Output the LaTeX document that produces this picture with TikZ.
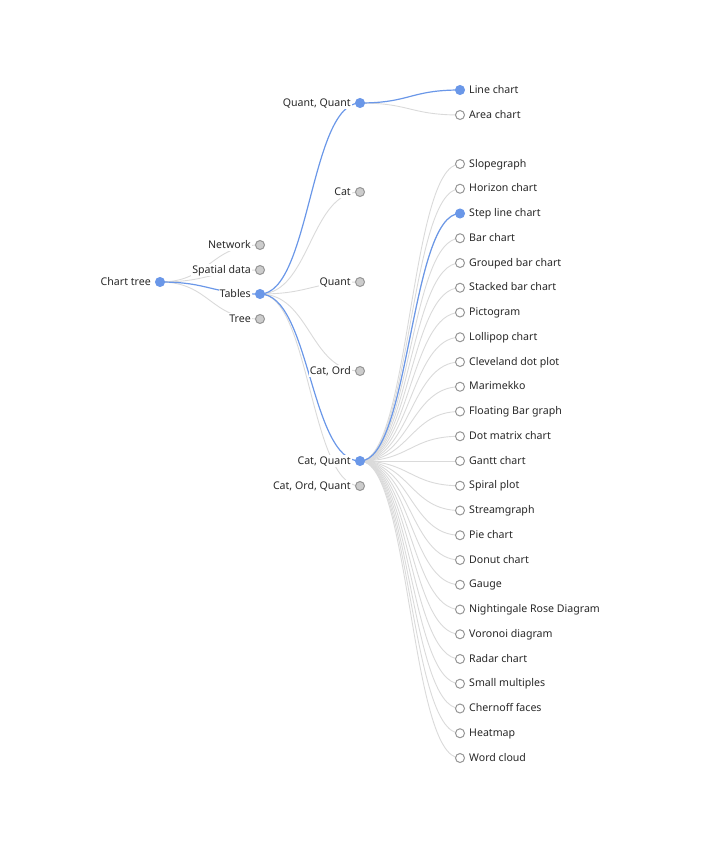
\documentclass[tikz,border=0pt]{standalone}
\usepackage{fontspec}
\setmainfont{Noto Sans}
\usepackage{xcolor}
\usetikzlibrary{backgrounds}
\definecolor{PathBlue}{RGB}{106,151,232}
\definecolor{LinkGrey}{RGB}{218,218,218}
\definecolor{KnotGrey}{RGB}{204,204,204}
\definecolor{RimGrey}{RGB}{150,150,150}
\definecolor{InkGrey}{RGB}{40,40,40}
% horizontal tree link between two named nodes
\newcommand\lk[3][link]{\draw[#1] (#2.center) .. controls +(50,0) and +(-50,0) .. (#3.center);}

\begin{document}
\begin{tikzpicture}[x=1pt,y=-1pt,every node/.style={font=\fontsize{10.6}{12}\selectfont,text=InkGrey}]
\tikzset{knot/.style={circle,inner sep=0pt,minimum size=9pt,line width=1pt},
  sel/.style={knot,fill=PathBlue,draw=PathBlue},
  shut/.style={knot,fill=KnotGrey,draw=RimGrey},
  leaf/.style={knot,fill=white,draw=RimGrey},
  link/.style={draw=LinkGrey,line width=0.9pt},
  hot/.style={draw=PathBlue,line width=1.2pt},
  txt/.style={fill=white,inner sep=1pt,text height=1.5ex,text depth=.3ex},
  tl/.style={label={[txt,label distance=3pt]left:#1}},
  tr/.style={label={[txt,label distance=3pt]right:#1}}}
\useasboundingbox (0,0) rectangle (710,853);
\node[sel,tl=Chart tree] (root) at (160,282) {};
\node[shut,tl=Network] (net) at (260,245) {};
\node[shut,tl=Spatial data] (geo) at (260,270) {};
\node[sel,tl=Tables] (tab) at (260,294) {};
\node[shut,tl=Tree] (tree) at (260,319) {};
\node[sel,tl={Quant, Quant}] (qq) at (360,103) {};
\node[shut,tl=Cat] (cat) at (360,192) {};
\node[shut,tl=Quant] (q) at (360,282) {};
\node[shut,tl={Cat, Ord}] (co) at (360,371) {};
\node[sel,tl={Cat, Quant}] (cq) at (360,461) {};
\node[shut,tl={Cat, Ord, Quant}] (coq) at (360,486) {};
\node[sel,tr=Line chart] (line) at (460,90) {};
\node[leaf,tr=Area chart] (area) at (460,115) {};
\foreach \name/\kind [count=\i] in {Slopegraph/leaf,Horizon chart/leaf,Step line chart/sel,
  Bar chart/leaf,Grouped bar chart/leaf,Stacked bar chart/leaf,Pictogram/leaf,Lollipop chart/leaf,
  Cleveland dot plot/leaf,Marimekko/leaf,Floating Bar graph/leaf,Dot matrix chart/leaf,
  Gantt chart/leaf,Spiral plot/leaf,Streamgraph/leaf,Pie chart/leaf,Donut chart/leaf,Gauge/leaf,
  Nightingale Rose Diagram/leaf,Voronoi diagram/leaf,Radar chart/leaf,Small multiples/leaf,
  Chernoff faces/leaf,Heatmap/leaf,Word cloud/leaf}
  \node[\kind,tr=\name] (c\i) at (460,{164+24.75*(\i-1)}) {};
\begin{scope}[on background layer]
\lk{root}{net}
\lk{root}{geo}
\lk{root}{tree}
\lk{tab}{cat}
\lk{tab}{q}
\lk{tab}{co}
\lk{tab}{coq}
\lk{qq}{area}
\foreach \i in {1,...,25} {\lk{cq}{c\i}}
\lk[hot]{root}{tab}
\lk[hot]{tab}{qq}
\lk[hot]{tab}{cq}
\lk[hot]{qq}{line}
\lk[hot]{cq}{c3}
\end{scope}
\end{tikzpicture}
\end{document}
